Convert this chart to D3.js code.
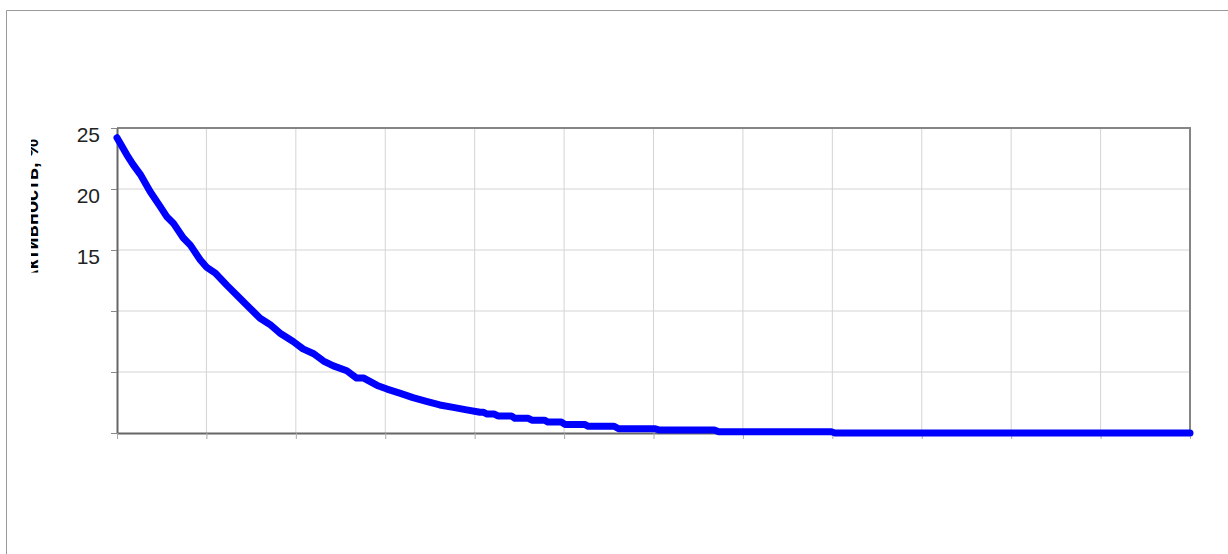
<!DOCTYPE html>
<html>
<head>
<meta charset="utf-8">
<script src="https://cdn.jsdelivr.net/npm/d3@7"></script>
<style>
    body { margin: 0; background: #fff; }
    svg { display: block; }
</style>
</head>
<body>
<div id="chart"></div>
<script>
// DATA
// x positions in grid units (12 intervals, no labels in the original)
const seriesX = [
    0.00, 0.11, 0.18, 0.26, 0.37, 0.48, 0.56, 0.63, 0.74, 0.82,
    0.93, 1.00, 1.10, 1.23, 1.38, 1.45, 1.60, 1.71, 1.82, 1.97,
    2.08, 2.20, 2.31, 2.42, 2.57, 2.68, 2.76, 2.91, 3.02, 3.17,
    3.31, 3.46, 3.61, 3.76, 3.91, 4.06, 4.10, 4.14, 4.22, 4.26,
    4.41, 4.45, 4.60, 4.64, 4.78, 4.82, 4.97, 5.01, 5.23, 5.27,
    5.56, 5.61, 6.01, 6.06, 6.68, 6.73, 7.99, 8.03, 12.00
];
// values, %
const seriesY = [
    24.2, 22.8, 22.0, 21.2, 19.8, 18.6, 17.7, 17.2, 16.0, 15.4,
    14.2, 13.6, 13.1, 12.1, 11.0, 10.5, 9.4, 8.9, 8.2, 7.5,
    6.9, 6.5, 5.9, 5.5, 5.1, 4.5, 4.5, 3.9, 3.6, 3.25,
    2.9, 2.6, 2.3, 2.1, 1.9, 1.7, 1.7, 1.55, 1.55, 1.4,
    1.4, 1.2, 1.2, 1.05, 1.05, 0.9, 0.9, 0.7, 0.7, 0.55,
    0.55, 0.35, 0.35, 0.25, 0.25, 0.1, 0.1, 0.0, 0.0
];
const yTicks = [0, 5, 10, 15, 20, 25];
const yTickLabels = ["", "", "", "15", "20", "25"];
const xTicks = [0, 1, 2, 3, 4, 5, 6, 7, 8, 9, 10, 11, 12];
const yTitle = "Активность, %";

// CHART VARIABLES
const width = 1228;
const height = 554;
const plot = {left: 117, right: 1190, top: 128, bottom: 433};

const svg = d3.select("#chart")
    .append("svg")
        .attr("width", width)
        .attr("height", height);

// outer frame (only top and left edges show)
svg.append("path")
    .attr("d", `M6.5,${height} V10.5 H${width}`)
    .attr("fill", "none")
    .attr("stroke", "#999")
    .attr("stroke-width", 1);

// scales
const xScale = d3.scaleLinear()
    .domain([0, 12])
    .range([plot.left, plot.right]);
const yScale = d3.scaleLinear()
    .domain([0, 25])
    .range([plot.bottom, plot.top]);

// grid
svg.append("g")
    .selectAll("line")
    .data(xTicks.slice(1, -1))
    .join("line")
        .attr("x1", d => xScale(d))
        .attr("x2", d => xScale(d))
        .attr("y1", plot.top)
        .attr("y2", plot.bottom)
        .attr("stroke", "#d4d4d4")
        .attr("stroke-width", 1);
svg.append("g")
    .selectAll("line")
    .data(yTicks.slice(1, -1))
    .join("line")
        .attr("x1", plot.left)
        .attr("x2", plot.right)
        .attr("y1", d => yScale(d))
        .attr("y2", d => yScale(d))
        .attr("stroke", "#d4d4d4")
        .attr("stroke-width", 1);

// top and right border
svg.append("path")
    .attr("d", `M${plot.left},${plot.top} H${plot.right} V${plot.bottom}`)
    .attr("fill", "none")
    .attr("stroke", "#858585")
    .attr("stroke-width", 2);

// axes
const yAxis = d3.axisLeft(yScale)
    .tickValues(yTicks)
    .tickSize(6)
    .tickPadding(11)
    .tickSizeOuter(0)
    .tickFormat((d, i) => yTickLabels[i]);
svg.append("g")
    .attr("transform", `translate(${plot.left},0)`)
    .call(yAxis)
    .call(g => g.select(".domain").attr("stroke", "#666").attr("stroke-width", 2))
    .call(g => g.selectAll(".tick line").attr("stroke", "#888"))
    .call(g => g.selectAll("text")
        .attr("dy", "0.66em")
        .attr("fill", "#222")
        .style("font", "21px 'Liberation Sans', Arial, sans-serif"));

const xAxis = d3.axisBottom(xScale)
    .tickValues(xTicks)
    .tickSize(6)
    .tickSizeOuter(0)
    .tickFormat("");
svg.append("g")
    .attr("transform", `translate(0,${plot.bottom})`)
    .call(xAxis)
    .call(g => g.select(".domain").attr("stroke", "#666").attr("stroke-width", 2))
    .call(g => g.selectAll(".tick line").attr("stroke", "#aaa"));

// curve
const points = seriesX.map((x, i) => [x, seriesY[i]]);
const line = d3.line()
    .x(d => xScale(d[0]))
    .y(d => yScale(d[1]));
svg.append("path")
    .datum(points)
    .attr("d", line)
    .attr("fill", "none")
    .attr("stroke", "#0000ff")
    .attr("stroke-width", 7)
    .attr("stroke-linejoin", "round")
    .attr("stroke-linecap", "round");

// y title, cut off in the original
svg.append("clipPath")
    .attr("id", "title-clip")
    .append("rect")
        .attr("x", 31)
        .attr("y", 120)
        .attr("width", 40)
        .attr("height", 152.5);
svg.append("g")
    .attr("clip-path", "url(#title-clip)")
    .append("text")
        .attr("transform", "translate(38,139) rotate(-90)")
        .attr("text-anchor", "end")
        .attr("fill", "#000")
        .style("font", "bold 20px 'Liberation Sans', Arial, sans-serif")
        .text(yTitle);
</script>
</body>
</html>
